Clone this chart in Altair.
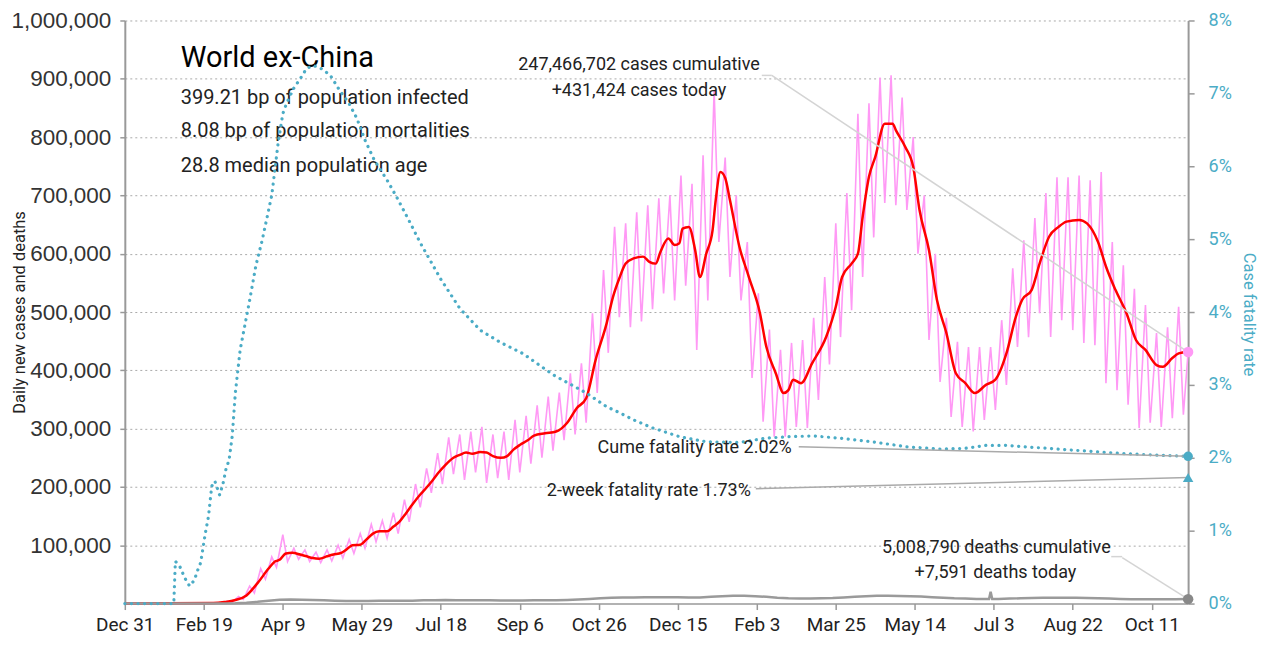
import altair as alt
import pandas as pd

NARROW = "Roboto, Liberation Sans, sans-serif"
PLAIN = "Liberation Sans, Arial, sans-serif"
TEAL = "#4bacc6"
PINK = "#ff99f5"

LAST_DAY = 673  # days since 2019-12-31 (last data date)

# 7-day average of daily new cases (thousands), days since 2019-12-31
red_days = [0, 56, 63, 70, 77, 84, 91, 95, 98, 102, 106, 111, 115, 119, 123, 128, 132, 137,
            140, 144, 149, 153, 157, 161, 166, 170, 174, 178, 182, 187, 191, 195, 199, 203,
            208, 212, 216, 220, 225, 229, 233, 238, 242, 246, 250, 255, 259, 266, 273, 280,
            286, 292, 298, 305, 309, 313, 317, 322, 328, 332, 336, 339, 344, 348, 351, 353,
            357, 361, 364, 368, 372, 374, 377, 380, 383, 389, 395, 402, 406, 412, 417, 420,
            423, 428, 435, 444, 450, 454, 460, 464, 467, 471, 475, 481, 486, 488, 494, 499,
            503, 509, 514, 520, 526, 532, 538, 545, 551, 558, 564, 568, 574, 579, 585, 591,
            596, 604, 609, 616, 621, 627, 634, 640, 646, 653, 657, 663, 667, 673]
red_k = [0, 0.8, 2.5, 6, 14, 35, 60, 72, 75, 86, 87, 84, 81, 78, 77, 81, 84, 87,
         92, 100, 101, 110, 120, 124, 124, 132, 141, 155, 170, 187, 199, 212, 226, 238,
         250, 255, 259, 257, 260, 259, 253, 250, 253, 264, 272, 280, 288, 292, 295, 310,
         335, 352, 418, 481, 526, 558, 583, 592, 595, 586, 583, 603, 626, 615, 618, 643,
         646, 606, 560, 600, 640, 692, 740, 730, 692, 612, 560, 498, 441, 395, 361, 366,
         384, 378, 412, 458, 509, 560, 583, 600, 663, 732, 766, 823, 823, 812, 783, 749,
         675, 606, 521, 464, 395, 378, 361, 375, 384, 429, 492, 521, 538, 583, 629, 646,
         655, 658, 652, 620, 578, 538, 498, 452, 435, 409, 406, 421, 429, 432]

# Daily new cases: weekly high / low (thousands), weeks counted from 2019-12-31
PINK_FIRST_WEEK = 9
pink_hi_k = [4, 12, 30, 60, 80, 118, 95, 92, 88, 92, 100, 110, 120, 136, 142, 156, 178, 205,
             232, 258, 285, 290, 295, 303, 290, 295, 315, 322, 340, 355, 362, 395, 412, 498,
             572, 646, 652, 671, 683, 695, 700, 734, 720, 769, 880, 765, 700, 620, 532, 470,
             435, 447, 452, 490, 560, 652, 704, 840, 858, 902, 906, 868, 800, 700, 600, 490,
             449, 440, 440, 440, 486, 575, 623, 661, 704, 731, 731, 734, 726, 740, 620, 580,
             540, 512, 464, 474, 509]
pink_lo_k = [2, 7, 18, 42, 62, 72, 76, 72, 70, 73, 78, 86, 95, 106, 112, 120, 140, 165,
             190, 205, 222, 212, 225, 207, 215, 212, 225, 240, 250, 262, 280, 290, 310, 361,
             430, 491, 474, 484, 505, 532, 520, 545, 435, 520, 620, 560, 520, 387, 312, 286,
             286, 303, 301, 349, 410, 457, 503, 560, 628, 687, 683, 675, 600, 452, 380, 320,
             303, 295, 315, 332, 375, 440, 457, 498, 457, 486, 469, 447, 443, 378, 366, 341,
             301, 310, 303, 318, 324]
today_cases = 431424
cum_cases = 247466702

# Daily deaths (thousands), weekly from 2019-12-31
deaths_k = [0, 0, 0, 0, 0, 0, 0.05, 0.1, 0.2, 0.3, 0.6,
            1.5, 3, 5, 6.5, 7, 6.5, 6, 5.5, 5, 4.5, 4.5, 4.5, 4.6, 4.7, 4.8, 5, 5.5, 5.7, 6,
            5.7, 5.6, 5.8, 5.6, 5.2, 5.3, 5.3, 5.5, 5.5, 5.8, 6.2, 7, 7.8, 9, 10, 10.5, 10.5,
            10.7, 11, 11, 11, 10.5, 10.5, 11.5, 12.5, 13.5, 13.5, 12.5, 11.5, 10, 9, 8.5, 8.5,
            9, 9.5, 10.5, 11.5, 12.5, 13.5, 13.5, 13, 12.5, 12, 11, 10, 9, 8.5, 8, 7.8, 8,
            8.5, 9, 9.5, 10, 10, 10, 9.8, 9.5, 9, 8.5, 8, 7.5, 7.3, 7.3, 7.3, 7.3, 7.6]
death_spike_days = [547, 548, 549]
death_spike_k = [7.9, 20, 7.9]
today_deaths = 7591
cum_deaths = 5008790

# Cumulative case fatality rate (%)
cfr_days = [0, 31, 32, 35, 38, 41, 44, 46, 48, 51, 53, 55, 57, 60, 62, 64, 66, 68, 70, 73,
            76, 79, 83, 87, 93, 97, 100, 102, 106, 111, 115, 119, 123, 130, 136, 142, 147,
            152, 158, 166, 172, 180, 187, 200, 212, 225, 238, 252, 271, 292, 305, 313, 322,
            334, 351, 368, 389, 406, 421, 435, 452, 473, 495, 516, 532, 545, 557, 570, 590,
            610, 630, 650, 673]
cfr_pct = [0, 0, 0.58, 0.5, 0.35, 0.24, 0.32, 0.45, 0.56, 0.97, 1.2, 1.61, 1.68, 1.49, 1.63,
           1.84, 1.97, 2.3, 2.9, 3.48, 3.82, 4.16, 4.64, 4.99, 5.6, 6.31, 6.72, 6.84, 7.04,
           7.2, 7.34, 7.38, 7.36, 7.25, 7.04, 6.86, 6.65, 6.36, 6.08, 5.81, 5.58, 5.25, 4.95,
           4.45, 4.05, 3.75, 3.58, 3.43, 3.14, 2.89, 2.7, 2.62, 2.52, 2.41, 2.29, 2.22, 2.21,
           2.27, 2.29, 2.3, 2.27, 2.22, 2.15, 2.12, 2.13, 2.17, 2.17, 2.15, 2.12, 2.09, 2.06,
           2.04, 2.02]
cume_cfr = 2.02
two_week_cfr = 1.73

title_text = "World ex-China"
stat_lines = ["399.21 bp of population infected",
              "8.08 bp of population mortalities",
              "28.8 median population age"]

# ---------------- tables ----------------
red_df = pd.DataFrame({"day": red_days, "v": [k * 1000 for k in red_k]})

pink_rows = [(0, 0), (60, 500)]
for i, (h, l) in enumerate(zip(pink_hi_k, pink_lo_k)):
    w = PINK_FIRST_WEEK + i
    pink_rows.append((7 * w + 2, h * 1000))
    pink_rows.append((7 * w + 5, l * 1000))
pink_rows.append((LAST_DAY, today_cases))
pink_df = pd.DataFrame(pink_rows, columns=["day", "v"])

d_days = list(range(0, 7 * len(deaths_k), 7)) + death_spike_days
d_vals = [k * 1000 for k in deaths_k] + [k * 1000 for k in death_spike_k]
death_df = pd.DataFrame({"day": d_days, "v": d_vals}).sort_values("day")
death_df = pd.concat([death_df, pd.DataFrame({"day": [LAST_DAY], "v": [today_deaths]})])

cfr_df = pd.DataFrame({"day": cfr_days, "p": cfr_pct})

cases_end = pd.DataFrame({"day": [LAST_DAY], "v": [today_cases]})
deaths_end = pd.DataFrame({"day": [LAST_DAY], "v": [today_deaths]})
cume_end = pd.DataFrame({"day": [LAST_DAY], "p": [cume_cfr]})
two_end = pd.DataFrame({"day": [LAST_DAY], "p": [two_week_cfr]})

# ---------------- encodings ----------------
x_enc = alt.X("day:Q",
              scale=alt.Scale(domain=[0, LAST_DAY], nice=False, zero=False),
              axis=alt.Axis(values=list(range(0, 651, 50)),
                            labelExpr="utcFormat(utc(2019, 11, 31 + datum.value), '%b %-d')",
                            grid=False, title=None, domainColor="#999", domainWidth=1.5,
                            tickColor="#999", tickSize=6, tickWidth=1.5,
                            labelFont=NARROW, labelFontSize=19, labelColor="#222",
                            labelPadding=6, labelFlush=False))

y_left = alt.Y("v:Q",
               scale=alt.Scale(domain=[0, 1000000], nice=False),
               axis=alt.Axis(orient="left", values=list(range(100000, 1000001, 100000)),
                             format=",d", grid=True, gridDash=[2, 3], gridColor="#aaa",
                             gridWidth=1, domainColor="#999", domainWidth=2,
                             tickColor="#999", tickSize=5, tickWidth=1.5,
                             labelFont=PLAIN, labelFontSize=22.5, labelColor="#333",
                             labelPadding=9,
                             title="Daily new cases and deaths", titleFont=NARROW,
                             titleFontSize=16.5, titleFontWeight="normal", titleColor="#222",
                             titleX=-97, titleY=292, titleAngle=270))

y_right = alt.Y("p:Q",
                scale=alt.Scale(domain=[0, 8], nice=False),
                axis=alt.Axis(orient="right", values=list(range(0, 9)),
                              labelExpr="datum.value + '%'", grid=False,
                              domainColor="#999", domainWidth=2, tickColor="#999",
                              tickSize=6, tickWidth=1.5,
                              labelFont=NARROW, labelFontSize=18, labelColor=TEAL,
                              labelPadding=14,
                              title="Case fatality rate", titleFont=NARROW,
                              titleFontSize=16.5, titleFontWeight="normal", titleColor=TEAL,
                              titleX=52, titleY=294, titleAngle=90))


def label(text, px, py, size=18, align="center", baseline="middle", color="#222"):
    return alt.Chart(pd.DataFrame({"t": [text]})).mark_text(
        font=NARROW, fontSize=size, color=color, align=align, baseline=baseline).encode(
        x=alt.value(px), y=alt.value(py), text="t:N")


def lead(end_df, y_enc, px, py, color):
    return alt.Chart(end_df).mark_rule(color=color, strokeWidth=1.5).encode(
        x=x_enc, y=y_enc, x2=alt.value(px), y2=alt.value(py))


def hseg(x1, x2, py, color):
    return alt.Chart(pd.DataFrame({"a": [0]})).mark_rule(color=color, strokeWidth=1.5).encode(
        x=alt.value(x1), x2=alt.value(x2), y=alt.value(py))


# ---------------- left layers ----------------
pink = alt.Chart(pink_df).mark_line(color=PINK, strokeWidth=1.6).encode(x=x_enc, y=y_left)
red = alt.Chart(red_df).mark_line(color="#ff0000", strokeWidth=2.5,
                                  interpolate="monotone").encode(x=x_enc, y=y_left)
gray = alt.Chart(death_df).mark_line(color="#9a9a9a", strokeWidth=2.5).encode(x=x_enc, y=y_left)

cases_pt = alt.Chart(cases_end).mark_point(filled=True, size=110, color=PINK, opacity=1).encode(
    x=x_enc, y=y_left)
deaths_pt = alt.Chart(deaths_end).mark_point(filled=True, size=110, color="#888888",
                                             opacity=1).encode(x=x_enc, y=y_left)

left = alt.layer(
    pink, red, gray,
    lead(cases_end, y_left, 648, 55, "#d4d4d4"), hseg(638, 648, 55, "#d4d4d4"),
    lead(deaths_end, y_left, 999, 538, "#d4d4d4"), hseg(988, 999, 537, "#d4d4d4"),
    cases_pt, deaths_pt,
    label(f"{cum_cases:,} cases cumulative", 515, 45),
    label(f"+{today_cases:,} cases today", 515, 71),
    label(f"{cum_deaths:,} deaths cumulative", 873, 528),
    label(f"+{today_deaths:,} deaths today", 872, 553),
    label(title_text, 56, 47, size=29, align="left", baseline="alphabetic", color="#000"),
    label(stat_lines[0], 56, 84, size=20, align="left", baseline="alphabetic"),
    label(stat_lines[1], 56, 117, size=20, align="left", baseline="alphabetic"),
    label(stat_lines[2], 56, 152, size=20, align="left", baseline="alphabetic"),
)

# ---------------- right layers ----------------
teal = alt.Chart(cfr_df).mark_line(color=TEAL, strokeWidth=3.2, strokeDash=[0.1, 6.5],
                                   strokeCap="round").encode(x=x_enc, y=y_right)
cume_pt = alt.Chart(cume_end).mark_point(filled=True, size=90, color=TEAL, opacity=1).encode(
    x=x_enc, y=y_right)
two_pt = alt.Chart(two_end).mark_point(filled=True, size=110, color=TEAL, shape="triangle-up",
                                       opacity=1).encode(x=x_enc, y=y_right)

right = alt.layer(
    teal,
    lead(cume_end, y_right, 675, 427, "#aaaaaa"),
    lead(two_end, y_right, 632, 469, "#aaaaaa"),
    cume_pt, two_pt,
    label(f"Cume fatality rate {cume_cfr:.2f}%", 668, 428, align="right"),
    label(f"2-week fatality rate {two_week_cfr:.2f}%", 627, 471, align="right"),
)

chart = alt.layer(left, right).resolve_scale(y="independent").properties(
    width=1065, height=584,
    autosize=alt.AutoSizeParams(type="none"),
    padding={"left": 117, "top": 12, "right": 72, "bottom": 35},
    background="white",
).configure_view(stroke=None)

chart.save("out.html", embed_options={"renderer": "svg", "actions": False})
